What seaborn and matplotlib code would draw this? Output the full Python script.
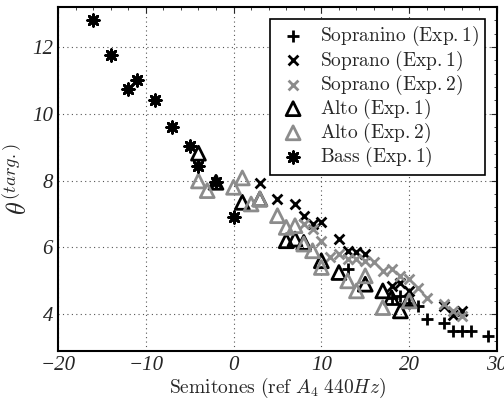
import numpy as np
import pandas as pd
import matplotlib
matplotlib.use('Agg')
import matplotlib.pyplot as plt
import seaborn as sns
from matplotlib.ticker import FuncFormatter, AutoMinorLocator

# semitone offsets and theta(targ.) values per recorder/experiment
sopranino1_x = [13, 18, 19, 20, 21, 22, 24, 25, 26, 27, 29]
sopranino1_y = [5.35, 4.5, 4.55, 4.35, 4.25, 3.85, 3.75, 3.5, 3.5, 3.5, 3.35]

soprano1_x = [3, 5, 7, 8, 9, 10, 12, 13, 14, 15, 18, 19, 20, 24, 25, 26]
soprano1_y = [7.93, 7.45, 7.3, 6.95, 6.7, 6.75, 6.25, 5.9, 5.85, 5.8, 4.85, 4.95, 4.7, 4.25, 3.97, 4.1]

soprano2_x = [8, 9, 10, 11, 12, 13, 14, 15, 16, 17, 18, 19, 20, 21, 22, 24, 25, 26]
soprano2_y = [6.7, 6.55, 6.2, 5.7, 5.8, 5.65, 5.65, 5.6, 5.55, 5.3, 5.35, 5.15, 5.05, 4.8, 4.5, 4.3, 4.1, 3.95]

alto1_x = [-4, -2, 1, 3, 6, 7, 8, 10, 12, 15, 17, 18, 19, 20]
alto1_y = [8.82, 7.95, 7.35, 7.45, 6.2, 6.25, 6.15, 5.6, 5.25, 4.9, 4.7, 4.5, 4.1, 4.45]

alto2_x = [-4, -3, 0, 1, 2, 3, 5, 6, 7, 8, 9, 10, 13, 14, 15, 17, 20]
alto2_y = [7.99, 7.7, 7.8, 8.08, 7.3, 7.45, 6.95, 6.6, 6.65, 6.1, 5.9, 5.4, 5.0, 4.7, 5.15, 4.2, 4.4]

bass1_x = [-16, -14, -12, -11, -9, -7, -5, -4, -2, 0]
bass1_y = [12.8, 11.75, 10.75, 11.0, 10.4, 9.6, 9.05, 8.45, 7.95, 6.9]

labels = ['Sopranino (Exp.1)', 'Soprano (Exp.1)', 'Soprano (Exp.2)',
          'Alto (Exp.1)', 'Alto (Exp.2)', 'Bass (Exp.1)']

sns.set_style('white')
plt.rcParams['mathtext.fontset'] = 'cm'
plt.rcParams['font.family'] = ['Liberation Serif', 'DejaVu Serif']
plt.rcParams['font.style'] = 'italic'   # only plain-text tick labels use it

fig = plt.figure(figsize=(5.04, 4.03), dpi=100)
ax = fig.add_axes([0.115, 0.129, 0.871, 0.854])

gray = '#8c8c8c'
series = [
    (sopranino1_x, sopranino1_y, '+', 'black', 'black', 85),
    (soprano1_x, soprano1_y, 'x', 'black', 'black', 50),
    (soprano2_x, soprano2_y, 'x', gray, gray, 50),
    (alto1_x, alto1_y, '^', 'none', 'black', 100),
    (alto2_x, alto2_y, '^', 'none', gray, 100),
    (bass1_x, bass1_y, (8, 2, 0), 'black', 'black', 70),
]

for (x, y, m, fc, ec, s), lab in zip(series, labels):
    df = pd.DataFrame({'x': x, 'y': y})
    label = r'$\mathrm{' + lab.replace(' ', r'\ ') + '}$'
    if fc == 'none':
        sns.scatterplot(data=df, x='x', y='y', marker=m, s=s, facecolors='none',
                        edgecolor=ec, linewidth=2, ax=ax, label=label)
    else:
        sns.scatterplot(data=df, x='x', y='y', marker=m, s=s, color=fc,
                        linewidth=2, ax=ax, label=label)

ax.set_xlim(-20, 30)
ax.set_ylim(2.9, 13.2)
ax.set_xticks([-20, -10, 0, 10, 20, 30])
ax.set_yticks([4, 6, 8, 10, 12])

fmt = FuncFormatter(lambda v, p: ('%d' % round(v)).replace('-', '\u2212'))
ax.xaxis.set_major_formatter(fmt)
ax.yaxis.set_major_formatter(fmt)
ax.yaxis.set_minor_locator(AutoMinorLocator(5))
ax.xaxis.set_minor_locator(AutoMinorLocator(5))
ax.tick_params(which='both', direction='in', top=True, right=True, labelsize=15)
ax.tick_params(which='major', length=4, width=0.8)
ax.tick_params(which='minor', length=2, width=0.6)
ax.grid(True, which='major', linestyle=(0, (1, 3)), color='#555555', linewidth=0.8)
for sp in ax.spines.values():
    sp.set_color('black')
    sp.set_linewidth(1.5)

ax.set_xlabel(r'$\mathrm{Semitones\ (ref\ }A_4\ 440Hz\mathrm{)}$', fontsize=14, labelpad=1)
ax.set_ylabel(r'$\theta^{(targ.)}$', fontsize=19, labelpad=0)

leg = ax.legend(loc='upper right', fontsize=14, frameon=True, fancybox=False,
                edgecolor='black', borderpad=0.3, labelspacing=0.0,
                handletextpad=0.5, borderaxespad=0.6, handlelength=1.8)
leg.get_frame().set_linewidth(1.2)
leg.get_frame().set_alpha(1)

fig.savefig('out.png', dpi=100)
